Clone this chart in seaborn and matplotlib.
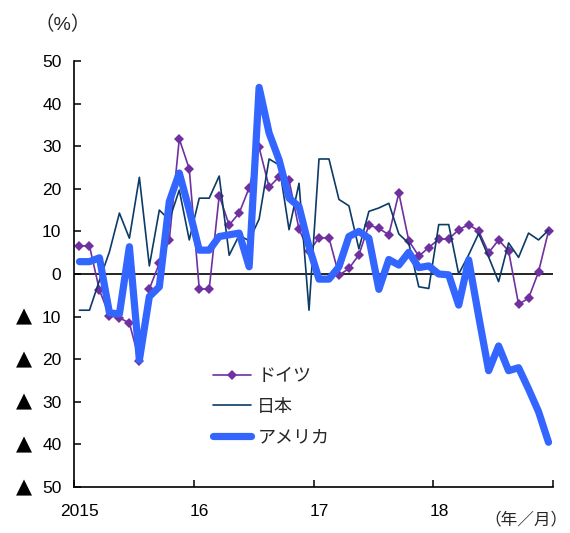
import numpy as np
import pandas as pd
import matplotlib
matplotlib.use("Agg")
import matplotlib.pyplot as plt
import matplotlib.transforms as mtransforms
import seaborn as sns

# Year-on-year change (%), monthly, Jan 2015 - Dec 2018
year_labels = ["2015", "16", "17", "18"]
series_names = ["ドイツ", "日本", "アメリカ"]

germany = [6.6, 6.6, -3.8, -9.8, -10.3, -11.5, -20.4, -3.5, 2.5, 8.0, 31.7, 24.7,
           -3.5, -3.5, 18.4, 11.5, 14.3, 20.2, 29.7, 20.4, 22.8, 22.0, 10.5, 5.3,
           8.5, 8.5, -0.3, 1.3, 4.5, 11.5, 10.7, 9.2, 19.0, 7.8, 4.2, 6.2,
           8.2, 8.2, 10.4, 11.6, 10.1, 5.0, 8.0, 5.4, -7.1, -5.7, 0.5, 10.1]

japan = [-8.5, -8.5, -1.5, 5.2, 14.3, 8.4, 22.7, 1.9, 15.0, 12.7, 19.7, 8.0,
         17.8, 17.8, 23.0, 4.4, 9.1, 7.8, 12.9, 27.0, 25.6, 10.4, 21.3, -8.5,
         27.0, 27.0, 17.5, 16.0, 5.9, 14.7, 15.5, 16.6, 9.4, 7.2, -3.0, -3.4,
         11.6, 11.6, 0.0, 4.5, 9.5, 4.0, -1.8, 7.3, 3.9, 9.6, 8.0, 10.3]

usa = [2.9, 2.9, 3.8, -9.1, -9.4, 6.4, -20.2, -5.3, -3.0, 17.0, 23.7, 15.0,
       5.6, 5.6, 8.8, 9.2, 9.6, 1.7, 43.8, 33.1, 26.8, 17.8, 15.8, 6.4,
       -1.2, -1.2, 1.7, 8.8, 10.0, 8.4, -3.6, 3.4, 2.1, 5.1, 1.5, 1.9,
       0.0, -0.2, -7.3, 3.3, -9.9, -22.7, -16.9, -22.7, -22.0, -27.0, -32.3, -39.5]

sns.set_theme(style="white")
plt.rcParams["font.family"] = ["Liberation Sans", "DejaVu Sans", "Noto Sans CJK JP"]
jp_fonts = ["Liberation Sans", "Noto Sans CJK JP", "DejaVu Sans"]

n = len(germany)
months = np.arange(n) + 0.55
df = pd.DataFrame({
    "month": np.tile(months, 3),
    "value": germany + japan + usa,
    "country": np.repeat(series_names, n),
})

fig = plt.figure(figsize=(5.70, 5.33), dpi=100)
ax = fig.add_axes([74 / 570, 1 - 487 / 533, (553 - 74) / 570, (487 - 61) / 533])

ax.axhline(0, color="black", lw=1.2, zorder=1)

styles = {
    "ドイツ": dict(color="#7030A0", lw=1.2, marker="D", markersize=5,
                 markeredgewidth=0, zorder=2),
    "日本": dict(color="#0B3B66", lw=1.2, zorder=3),
    "アメリカ": dict(color="#3366FF", lw=5.2, zorder=4, solid_capstyle="round",
                  solid_joinstyle="round"),
}
for name in series_names:
    sns.lineplot(data=df[df["country"] == name], x="month", y="value", ax=ax,
                 estimator=None, errorbar=None, label=name, **styles[name])

ax.set_xlim(0, 48)
ax.set_ylim(-50, 50)
ax.set_xlabel("")
ax.set_ylabel("")

ax.set_xticks([0, 12, 24, 36, 48])
ax.set_xticklabels(year_labels + [""])
yt = np.arange(-50, 51, 10)
ax.set_yticks(yt)
ax.set_yticklabels([f"{abs(v)}" for v in yt])

# negative values are marked with a triangle in front of the number
tri_trans = mtransforms.blended_transform_factory(fig.transFigure, ax.transData)
for v in yt[yt < 0]:
    ax.text(24 / 570, v, "▲", transform=tri_trans, ha="center", va="center",
            fontsize=15, family="DejaVu Sans", color="black", clip_on=False)

for side in ["top", "right"]:
    ax.spines[side].set_visible(False)
for side in ["left", "bottom"]:
    ax.spines[side].set_color("black")
    ax.spines[side].set_linewidth(1.2)

ax.tick_params(axis="both", direction="in", length=5, width=1.1, color="black",
               labelsize=12.5, labelcolor="black")
ax.tick_params(axis="x", pad=12, bottom=True)
ax.tick_params(axis="y", pad=9, left=True)

shift = mtransforms.ScaledTranslation(6 / 100, 0, fig.dpi_scale_trans)
for lab in ax.get_xticklabels():
    lab.set_transform(lab.get_transform() + shift)

leg = ax.legend(loc="upper left", bbox_to_anchor=((213 - 74) / 479, (487 - 368) / 426),
                frameon=False, prop={"family": jp_fonts, "size": 13},
                handlelength=2.1, handletextpad=0.35,
                labelspacing=0.75, borderpad=0, borderaxespad=0)

fig.text(34 / 570, 1 - 25 / 533, "（%）", fontsize=14, ha="left", va="center",
         family=jp_fonts)
fig.text(568 / 570, 1 - 519 / 533, "（年／月）", fontsize=12, ha="right", va="center",
         family=jp_fonts)

fig.savefig("out.png", dpi=100, facecolor="white")
